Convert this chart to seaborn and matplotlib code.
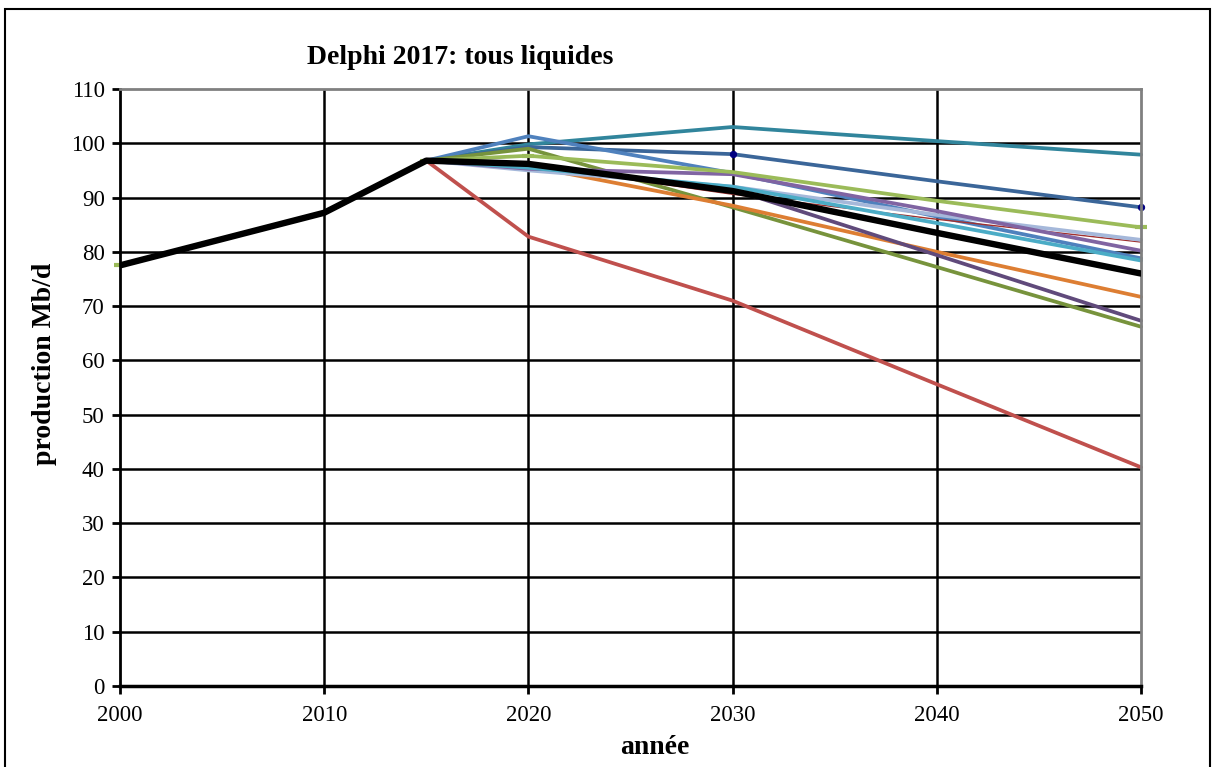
import matplotlib
matplotlib.use('Agg')
import matplotlib.pyplot as plt
import seaborn as sns

# years
all_years = [2000, 2010, 2015, 2020, 2030, 2040, 2050]
scen_years = [2015, 2020, 2030, 2040, 2050]

# thick black line (history + mean)
moyenne = [77.5, 87.2, 96.8, 96.2, 91.2, 83.5, 76.0]

# scenario lines
vert_clair = [77.5, 87.2, 96.8, 97.7, 94.7, 89.4, 84.5]
sarcelle = [96.8, 99.8, 103.0, 100.4, 97.9]
bleu_fonce = [96.8, 99.3, 98.0, 93.0, 88.2]
bleu = [96.8, 101.3, 94.5, 86.5, 78.8]
olive = [96.8, 99.0, 88.2, 77.2, 66.2]
violet = [96.8, 95.3, 94.3, 87.5, 80.2]
violet_fonce = [96.8, 95.8, 91.5, 79.4, 67.3]
cyan = [96.8, 95.5, 92.0, 85.3, 78.4]
lavande = [96.8, 95.0, 92.0, 86.8, 82.2]
rouge_fonce = [96.8, 96.0, 90.6, 86.0, 81.8]
orange = [96.8, 95.8, 88.5, 80.0, 71.7]
rouge = [96.8, 82.8, 71.0, 55.6, 40.3]

sns.set_theme(style='white')
plt.rcParams['font.family'] = ['Liberation Serif', 'DejaVu Serif']
plt.rcParams['text.color'] = 'black'

fig = plt.figure(figsize=(12.14, 7.67), dpi=100)
ax = fig.add_axes([120 / 1214, 1 - 686 / 767, 1021 / 1214, 597 / 767])

# grid first, black like the original
for v in range(10, 110, 10):
    ax.axhline(v, color='black', lw=1.8, zorder=0)
for v in range(2010, 2050, 10):
    ax.axvline(v, color='black', lw=1.8, zorder=0)

#scenarios (color, width)
series = [
    (sarcelle, '#31859C', 2.7),
    (bleu_fonce, '#3B6699', 2.7),
    (bleu, '#4F81BD', 2.7),
    (olive, '#77933C', 2.7),
    (orange, '#DD7E33', 2.7),
    (rouge_fonce, '#A0302E', 1.0),
    (lavande, '#A5B8DA', 2.7),
    (violet, '#8064A2', 2.7),
    (violet_fonce, '#604A7B', 2.7),
    (cyan, '#4BACC6', 2.7),
    (rouge, '#C0504D', 2.7),
]
for vals, col, lw in series:
    if vals is bleu_fonce:
        sns.lineplot(x=scen_years, y=vals, color=col, lw=lw, ax=ax, marker='o',
                     markersize=4.5, mfc='#000080', mec='#000080', markevery=[2, 4],
                     clip_on=False)
    else:
        sns.lineplot(x=scen_years, y=vals, color=col, lw=lw, ax=ax, clip_on=False)

sns.lineplot(x=all_years, y=vert_clair, color='#9BBB59', lw=2.7, ax=ax, marker='_',
             markersize=9, mew=3, mec='#9BBB59', markevery=[0, 2, 3, 6],
             clip_on=False, zorder=2.5)
sns.lineplot(x=all_years, y=moyenne, color='black', lw=4.6, ax=ax, zorder=3)

ax.set_xlim(2000, 2050)
ax.set_ylim(0, 110)
ax.set_xticks(range(2000, 2051, 10))
ax.set_yticks(range(0, 111, 10))
ax.set_xlabel('')
ax.set_ylabel('')
ax.tick_params(direction='out', length=6, width=2, color='black', labelsize=16.5,
               labelcolor='black', left=True, bottom=True)
ax.tick_params(axis='x', pad=8)
ax.tick_params(axis='y', pad=5)

ax.spines['left'].set_color('black')
ax.spines['left'].set_linewidth(2)
ax.spines['bottom'].set_color('black')
ax.spines['bottom'].set_linewidth(2.5)
ax.spines['top'].set_color('#808080')
ax.spines['top'].set_linewidth(2)
ax.spines['right'].set_color('#808080')
ax.spines['right'].set_linewidth(2)

fig.text(460 / 1214, 1 - 57 / 767, 'Delphi 2017: tous liquides', ha='center', va='center',
         fontsize=20, fontweight='bold', color='black')
fig.text(45 / 1214, 1 - 364 / 767, 'production Mb/d', ha='center', va='center',
         rotation=90, fontsize=20, fontweight='bold', color='black')
fig.text(655 / 1214, 1 - 748 / 767, 'année', ha='center', va='center',
         fontsize=20, fontweight='bold', color='black')

# outer frame round the whole chart
fig.add_artist(plt.Rectangle((5 / 1214, -0.01), 1205 / 1214, 1 - 9 / 767 + 0.01,
                             transform=fig.transFigure, fill=False, ec='black', lw=1.5))

fig.savefig('out.png', dpi=100)
